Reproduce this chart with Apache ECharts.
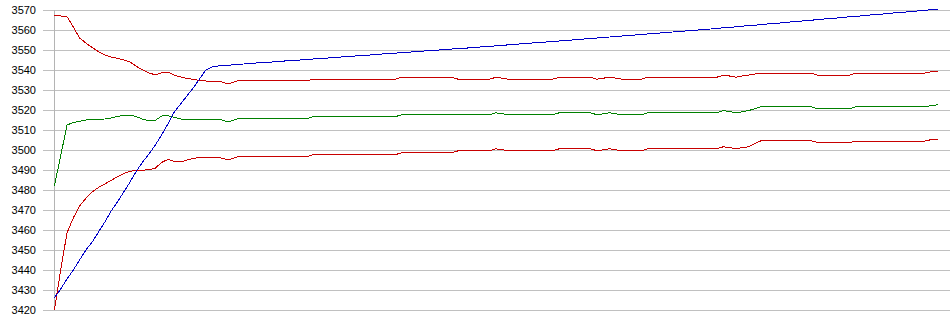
<!DOCTYPE html>
<html>
<head>
<meta charset="utf-8">
<script src="https://cdn.jsdelivr.net/npm/echarts@6/dist/echarts.min.js"></script>
<style>
html,body{margin:0;padding:0;background:#fff;}
#chart{width:950px;height:335px;}
#chart svg path{shape-rendering:crispEdges;}
</style>
</head>
<body>
<div id="chart"></div>
<script>
// y axis range and tick step (labels 3420 ... 3570)
var yMin = 3420;
var yMax = 3570;
var yStep = 10;

// blue line
var blueValues = [
3426,3430.5,3435.5,3440,3445,3450,3454,3459,3464,3469.5,
3474,3479,3484,3489.5,3494,3498,3502.5,3507.5,3513,3519,
3523,3527,3531,3535.5,3540,3541.5,3542,3542.2,3542.5,3542.8,
3543.0,3543.2,3543.5,3543.7,3543.9,3544.1,3544.4,3544.6,3544.8,3545.0,
3545.3,3545.5,3545.7,3545.9,3546.2,3546.4,3546.6,3546.8,3547.1,3547.3,
3547.5,3547.8,3548.0,3548.2,3548.4,3548.7,3548.9,3549.1,3549.3,3549.6,
3549.8,3550.0,3550.2,3550.5,3550.7,3550.9,3551.1,3551.4,3551.6,3551.8,
3552.1,3552.3,3552.6,3552.8,3553.1,3553.3,3553.6,3553.8,3554.0,3554.3,
3554.5,3554.8,3555.0,3555.3,3555.5,3555.8,3556.0,3556.3,3556.5,3556.8,
3557.0,3557.3,3557.5,3557.8,3558.0,3558.3,3558.5,3558.8,3559.0,3559.3,
3559.5,3559.8,3560.0,3560.3,3560.5,3560.8,3561.1,3561.3,3561.6,3561.9,
3562.2,3562.4,3562.7,3563.0,3563.3,3563.5,3563.8,3564.1,3564.4,3564.6,
3564.9,3565.2,3565.5,3565.7,3566.0,3566.3,3566.6,3566.8,3567.1,3567.4,
3567.7,3567.9,3568.2,3568.5,3568.8,3569.0,3569.3,3569.6,3569.9,3570.1,
3570.3
];

// upper red line
var upperValues = [
3567.3,3567.0,3566.7,3561.5,3556.0,3553.5,3551.2,3549.2,3547.5,3546.5,
3545.8,3545.0,3544.0,3541.8,3540.0,3538.5,3537.6,3538.6,3538.9,3537.5,
3536.5,3535.8,3535.3,3534.8,3534.5,3534.5,3534.5,3533.5,3533.5,3534.6,
3534.6,3534.6,3534.6,3534.6,3534.6,3534.6,3534.6,3534.6,3534.6,3534.6,
3534.6,3535.4,3535.4,3535.4,3535.4,3535.4,3535.4,3535.4,3535.4,3535.4,
3535.4,3535.4,3535.4,3535.4,3535.4,3536.4,3536.4,3536.4,3536.4,3536.4,
3536.4,3536.4,3536.4,3536.4,3535.4,3535.4,3535.4,3535.4,3535.4,3535.4,
3536.4,3535.9,3535.4,3535.4,3535.4,3535.4,3535.4,3535.4,3535.4,3535.4,
3536.4,3536.4,3536.4,3536.4,3536.4,3536.4,3535.4,3535.9,3536.4,3535.9,
3535.4,3535.4,3535.4,3535.4,3536.4,3536.4,3536.4,3536.4,3536.4,3536.4,
3536.4,3536.4,3536.4,3536.4,3536.4,3536.4,3537.4,3537.0,3536.4,3537.0,
3537.4,3538.0,3538.5,3538.5,3538.5,3538.5,3538.5,3538.5,3538.5,3538.5,
3538.5,3537.4,3537.4,3537.4,3537.4,3537.4,3537.4,3538.5,3538.5,3538.5,
3538.5,3538.5,3538.5,3538.5,3538.5,3538.5,3538.5,3538.5,3538.5,3539.1,
3539.4
];

// middle green line
var middleValues = [
3482.0,3497.0,3512.5,3513.7,3514.4,3515.0,3515.3,3515.4,3515.5,3516.0,
3516.8,3517.3,3517.5,3516.7,3515.4,3514.7,3514.8,3517.0,3517.2,3516.3,
3515.5,3515.5,3515.5,3515.5,3515.5,3515.5,3515.5,3514.5,3514.5,3515.6,
3515.6,3515.6,3515.6,3515.6,3515.6,3515.6,3515.6,3515.6,3515.6,3515.6,
3515.6,3516.6,3516.6,3516.6,3516.6,3516.6,3516.6,3516.6,3516.6,3516.6,
3516.6,3516.6,3516.6,3516.6,3516.6,3517.6,3517.6,3517.6,3517.6,3517.6,
3517.6,3517.6,3517.6,3517.6,3517.6,3517.6,3517.6,3517.6,3517.6,3517.6,
3518.6,3518.1,3517.6,3517.6,3517.6,3517.6,3517.6,3517.6,3517.6,3517.6,
3518.6,3518.6,3518.6,3518.6,3518.6,3518.6,3517.6,3518.1,3518.6,3518.1,
3517.6,3517.6,3517.6,3517.6,3518.6,3518.6,3518.6,3518.6,3518.6,3518.6,
3518.6,3518.6,3518.6,3518.6,3518.6,3518.6,3519.7,3519.2,3518.6,3519.1,
3519.7,3520.6,3521.6,3521.6,3521.6,3521.6,3521.6,3521.6,3521.6,3521.6,
3521.6,3520.6,3520.6,3520.6,3520.6,3520.6,3520.6,3521.6,3521.6,3521.6,
3521.6,3521.6,3521.6,3521.6,3521.6,3521.6,3521.6,3521.6,3521.6,3522.2,
3522.6
];

// lower red line
var lowerValues = [
3420.0,3440.0,3458.5,3466.0,3472.0,3475.8,3479.0,3481.3,3483.0,3484.8,
3486.6,3488.2,3489.4,3489.8,3489.9,3490.2,3490.9,3493.8,3495.3,3494.3,
3494.0,3495.0,3495.8,3496.3,3496.3,3496.3,3496.3,3495.5,3495.5,3496.6,
3496.6,3496.6,3496.6,3496.6,3496.6,3496.6,3496.6,3496.6,3496.6,3496.6,
3496.6,3497.6,3497.6,3497.6,3497.6,3497.6,3497.6,3497.6,3497.6,3497.6,
3497.6,3497.6,3497.6,3497.6,3497.6,3498.6,3498.6,3498.6,3498.6,3498.6,
3498.6,3498.6,3498.6,3498.6,3499.6,3499.6,3499.6,3499.6,3499.6,3499.6,
3500.6,3500.1,3499.6,3499.6,3499.6,3499.6,3499.6,3499.6,3499.6,3499.6,
3500.6,3500.6,3500.6,3500.6,3500.6,3500.6,3499.6,3500.1,3500.6,3500.1,
3499.6,3499.6,3499.6,3499.6,3500.6,3500.6,3500.6,3500.6,3500.6,3500.6,
3500.6,3500.6,3500.6,3500.6,3500.6,3500.6,3501.6,3501.2,3500.6,3501.2,
3501.6,3503.2,3504.6,3504.6,3504.6,3504.6,3504.6,3504.6,3504.6,3504.6,
3504.6,3503.7,3503.7,3503.7,3503.7,3503.7,3503.7,3504.5,3504.5,3504.5,
3504.5,3504.5,3504.5,3504.5,3504.5,3504.5,3504.5,3504.5,3504.5,3505.2,
3505.5
];

function toPairs(arr) {
  return arr.map(function (v, i) { return [i, v]; });
}

function lineSeries(name, values, color) {
  return {
    name: name,
    type: 'line',
    data: toPairs(values),
    showSymbol: false,
    symbol: 'none',
    clip: false,
    silent: true,
    lineStyle: { color: color, width: 1 },
    emphasis: { disabled: true }
  };
}

var chart = echarts.init(document.getElementById('chart'), null, { renderer: 'svg' });
chart.setOption({
  animation: false,
  backgroundColor: '#ffffff',
  grid: { left: 43, right: 0, top: 10, bottom: 25, containLabel: false },
  xAxis: {
    type: 'value',
    min: -1.8,
    max: 141.95,
    show: false
  },
  yAxis: {
    type: 'value',
    min: yMin,
    max: yMax,
    interval: yStep,
    axisLine: { show: true, lineStyle: { color: '#b4b4b4', width: 1 } },
    axisTick: { show: false },
    axisLabel: {
      color: '#000000',
      fontSize: 11,
      fontFamily: 'Liberation Sans, Arial, sans-serif',
      margin: 7,
      formatter: function (v) { return String(v); }
    },
    splitLine: { show: true, lineStyle: { color: '#c0c0c0', width: 1 } }
  },
  series: [
    lineSeries('Upper', upperValues, '#c80000'),
    lineSeries('Middle', middleValues, '#008000'),
    lineSeries('Lower', lowerValues, '#c80000'),
    lineSeries('Blue', blueValues, '#0000c8')
  ]
});
</script>
</body>
</html>
